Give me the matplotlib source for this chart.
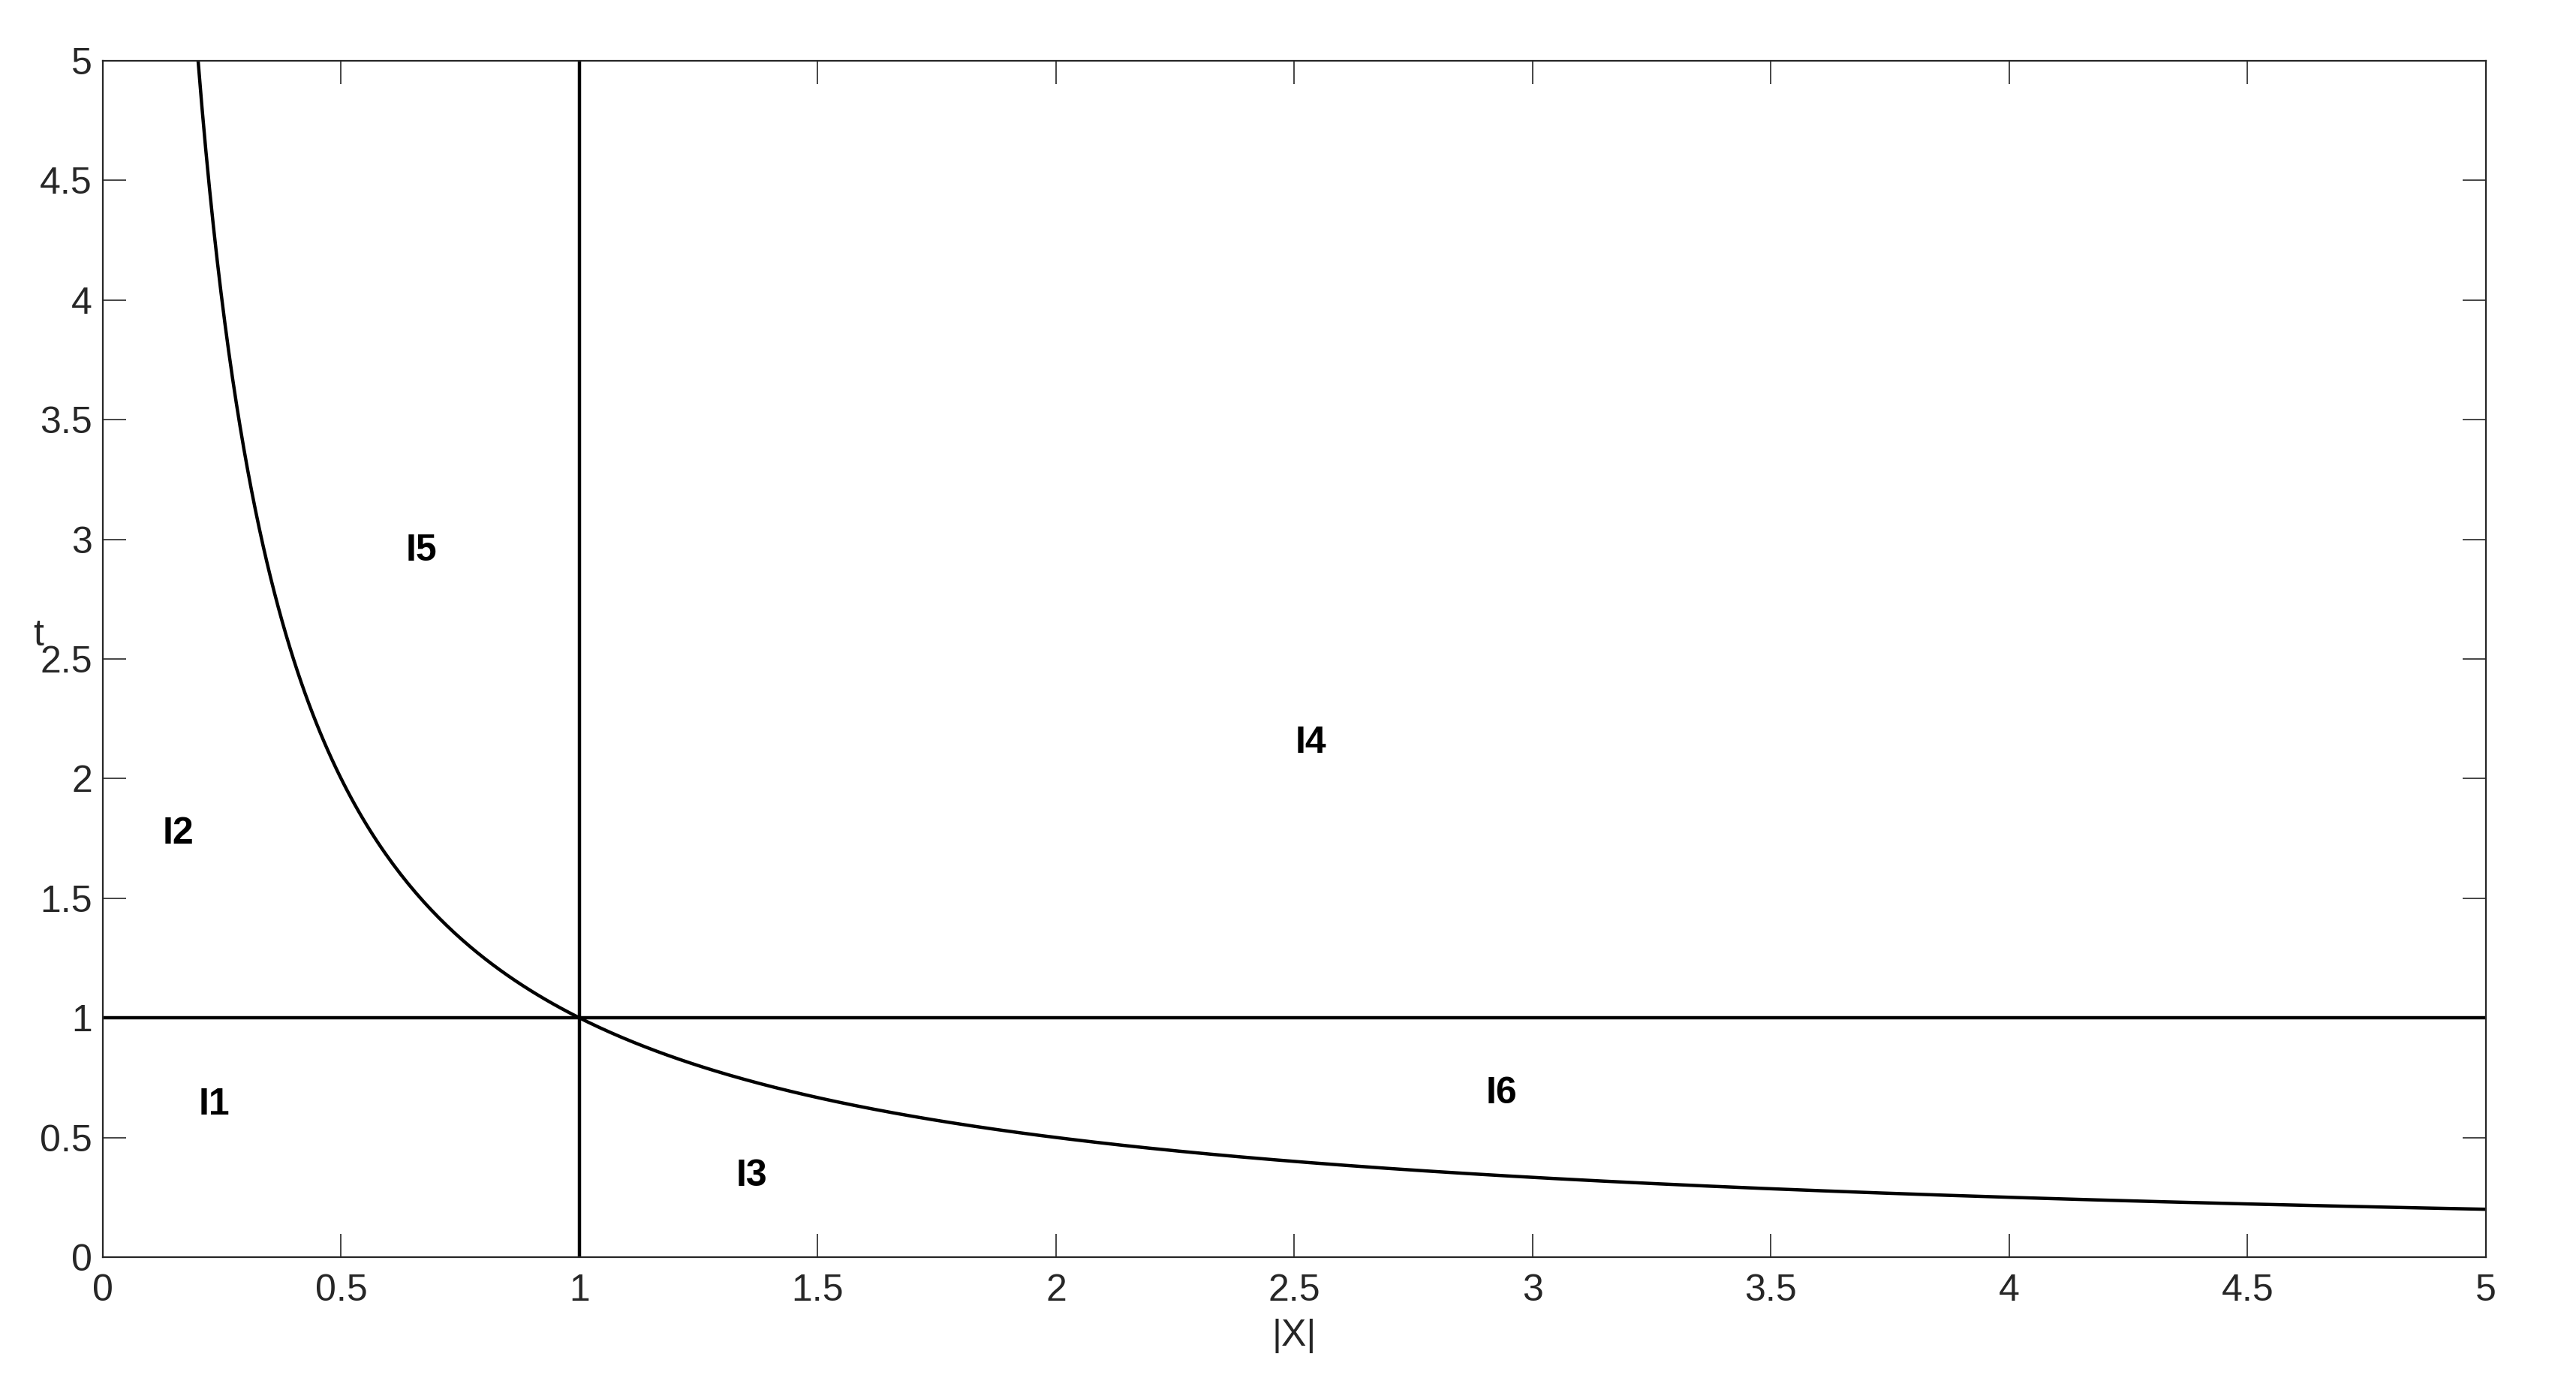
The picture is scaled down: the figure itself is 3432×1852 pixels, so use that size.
import numpy as np
import matplotlib
matplotlib.use("Agg")
import matplotlib.pyplot as plt

plt.rcParams['font.family'] = ['Liberation Sans', 'DejaVu Sans']

# boundary curve t = 1/|X| and the two separating lines
x_abs = np.linspace(0.2, 5, 600)
t_curve = 1.0 / x_abs
t_line = 1.0
x_line = 1.0

# region labels and where they sit
region_names = ['I1', 'I2', 'I3', 'I4', 'I5', 'I6']
region_x = [0.234, 0.159, 1.362, 2.534, 0.669, 2.934]
region_t = [0.636, 1.77, 0.34, 2.147, 2.95, 0.684]

ticks = [0, 0.5, 1, 1.5, 2, 2.5, 3, 3.5, 4, 4.5, 5]
tick_labels = ['0', '0.5', '1', '1.5', '2', '2.5', '3', '3.5', '4', '4.5', '5']

fig = plt.figure(figsize=(17.16, 9.26), dpi=200)
ax = fig.add_axes([0.0399, 0.0956, 0.9251, 0.8607])

ax.plot(x_abs, t_curve, color='black', linewidth=1.6)
ax.axhline(t_line, color='black', linewidth=1.6)
ax.axvline(x_line, color='black', linewidth=1.6)

for name, xx, tt in zip(region_names, region_x, region_t):
    ax.text(xx, tt, name, fontsize=18, fontweight='bold', color='black',
            ha='center', va='center')

ax.set_xlim(0, 5)
ax.set_ylim(0, 5)
ax.set_xticks(ticks)
ax.set_xticklabels(tick_labels)
ax.set_yticks(ticks)
ax.set_yticklabels(tick_labels)

grey = '#262626'
for s in ax.spines.values():
    s.set_color(grey)
    s.set_linewidth(0.8)
ax.tick_params(direction='in', length=11, width=0.6, color=grey,
               labelcolor=grey, labelsize=18, top=True, right=True)
ax.tick_params(axis='x', pad=8)
ax.tick_params(axis='y', pad=5)

ax.set_xlabel('|X|', fontsize=18, color=grey, labelpad=5)
ax.set_ylabel('t', fontsize=18, color=grey, rotation=0)
ax.yaxis.set_label_coords(-0.027, 0.505)

fig.savefig('out.png', dpi=200, facecolor='white')
